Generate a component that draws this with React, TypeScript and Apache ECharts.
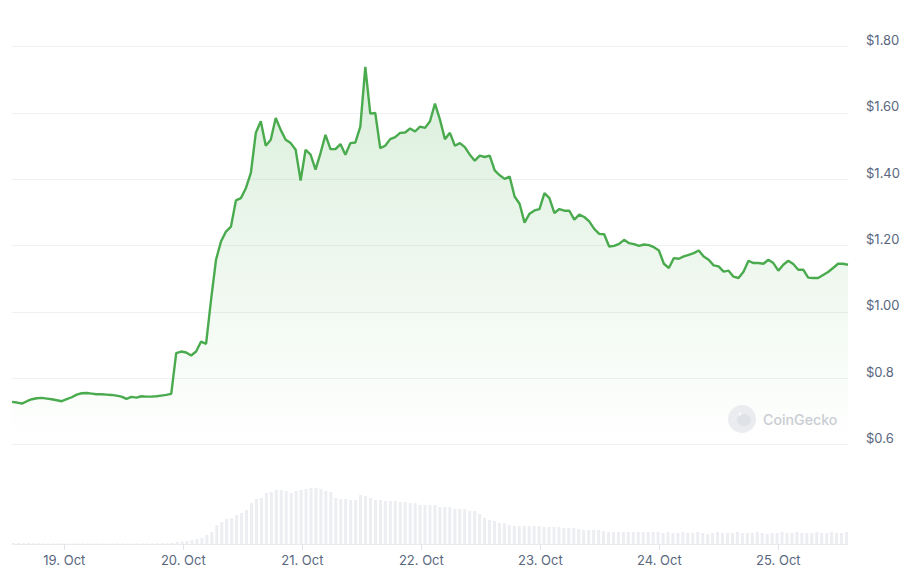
import React, { useEffect, useRef } from "react";
import * as echarts from "echarts";

// Hourly series, starting 18 Oct 13:45 (local time)
const startTime = new Date(2024, 9, 18, 13, 45).getTime();
const HOUR_MS = 3600 * 1000;
const DAY_MS = 24 * HOUR_MS;
const monthNames = ["Jan", "Feb", "Mar", "Apr", "May", "Jun", "Jul", "Aug", "Sep", "Oct", "Nov", "Dec"];

const prices = [
  // 18 Oct afternoon - 19 Oct
  0.728, 0.726, 0.723, 0.730, 0.736, 0.739, 0.740, 0.738, 0.736, 0.733, 0.730, 0.736, 0.742, 0.750, 0.754, 0.755,
  0.753, 0.751, 0.751, 0.750, 0.749, 0.747, 0.744, 0.737, 0.743, 0.741, 0.745, 0.744, 0.744, 0.745, 0.747, 0.749,
  0.752,
  // jump
  0.875, 0.880, 0.877, 0.868, 0.880, 0.910, 0.903,
  // rally & top
  1.036, 1.157, 1.212, 1.242, 1.257, 1.336, 1.343, 1.373, 1.419, 1.540,
  1.575, 1.501, 1.519, 1.585, 1.549, 1.519, 1.509, 1.489, 1.396, 1.489,
  1.474, 1.429, 1.479, 1.534, 1.491, 1.491, 1.506, 1.474, 1.509, 1.511,
  1.559, 1.739, 1.598, 1.600, 1.494, 1.501, 1.521, 1.527, 1.540, 1.541,
  1.553, 1.544, 1.559, 1.555, 1.575, 1.628, 1.580, 1.521, 1.540, 1.501,
  1.509, 1.497, 1.474, 1.456, 1.471, 1.467, 1.471,
  // decline
  1.427, 1.412, 1.401, 1.408, 1.348, 1.326, 1.269, 1.296, 1.306, 1.310,
  1.358, 1.343, 1.298, 1.310, 1.305, 1.305, 1.278, 1.293, 1.286, 1.273,
  1.250, 1.235, 1.234, 1.197, 1.199, 1.205, 1.217, 1.207, 1.204, 1.199,
  1.203, 1.201, 1.195, 1.185, 1.145, 1.132, 1.162, 1.160, 1.167, 1.172,
  1.177, 1.185,
  // consolidation
  1.167, 1.157, 1.140, 1.137, 1.121, 1.124, 1.106, 1.102, 1.121, 1.154,
  1.147, 1.147, 1.145, 1.157, 1.147, 1.124, 1.142, 1.154, 1.144, 1.127,
  1.127, 1.103, 1.102, 1.102, 1.111, 1.120, 1.132, 1.145, 1.145, 1.142,
];

const volumes = [
  1, 1, 1, 1, 0.8, 0.8,
  0.6, 0.5, 0.5, 0.6, 0.5, 0.5, 0.5, 0.6, 0.6, 0.5, 0.5, 0.5, 0.5, 0.5, 0.6, 0.5, 0.5, 0.5, 0.5, 0.5, 0.6, 0.6, 0.6, 0.7, 0.7, 0.8, 1.0,
  2, 2.5, 3, 4, 5, 6, 9,
  12, 19, 22, 25, 26, 29, 31, 34, 41, 45, 46, 51, 52, 54, 54, 53, 51, 53, 54, 55, 56, 56, 55, 53, 52,
  46, 45, 45, 44, 44, 49, 48, 46, 44, 44, 43, 43, 43, 42, 42, 41, 41, 39, 39, 39, 39, 37, 37, 37, 35, 35, 35, 33, 33, 30, 26, 24,
  23, 21, 21, 19, 18, 18, 18, 18, 18, 18, 17, 17, 17, 17, 16, 16, 16, 15, 14, 14, 14, 14, 13, 12, 12, 12, 12, 12, 12, 12, 12, 12, 12, 12,
  11, 12, 11, 11, 12, 11, 11, 12, 11, 10, 11, 12, 11, 11, 11, 12, 11, 11, 11, 12, 11, 10, 11, 11, 12, 11, 11, 12, 11, 11, 11, 12, 11, 11, 12, 11, 11, 12,
];

const yTickValues = [0.6, 0.8, 1.0, 1.2, 1.4, 1.6, 1.8];
const yTickLabels = ["$0.6", "$0.8", "$1.00", "$1.20", "$1.40", "$1.60", "$1.80"];

const FONT = 'Inter, "Noto Sans", "DejaVu Sans", sans-serif';
const LABEL_COLOR = "#58667e";

export default function App() {
  const ref = useRef<HTMLDivElement>(null);

  useEffect(() => {
    if (!ref.current) return;
    const chart = echarts.init(ref.current, null, { renderer: "svg" });
    const times = prices.map((_, i) => startTime + i * HOUR_MS);
    const priceData = prices.map((p, i) => [times[i], p]);
    const volData = volumes.map((v, i) => [times[i], v]);
    const tMin = times[0];
    const tMax = times[times.length - 1];

    chart.setOption({
      animation: false,
      backgroundColor: "#ffffff",
      textStyle: { fontFamily: FONT },
      grid: [
        { left: 12, right: 72, top: 46.7, height: 397.6 },
        { left: 12, right: 72, top: 487, height: 57 },
      ],
      xAxis: [
        {
          type: "time",
          gridIndex: 0,
          min: tMin,
          max: tMax,
          show: false,
          splitLine: { show: false },
        },
        {
          type: "time",
          gridIndex: 1,
          min: tMin,
          max: tMax,
          minInterval: DAY_MS,
          maxInterval: DAY_MS,
          axisLine: { show: true, lineStyle: { color: "#e9ebee", width: 1 } },
          axisTick: { show: true, length: 6, lineStyle: { color: "#dfe2e6" } },
          splitLine: { show: false },
          axisLabel: {
            margin: 9,
            color: LABEL_COLOR,
            fontSize: 13,
            fontFamily: FONT,
            formatter: (val: number) => {
              const d = new Date(val);
              return `${d.getDate()}. ${monthNames[d.getMonth()]}`;
            },
          },
        },
      ],
      yAxis: [
        {
          type: "value",
          gridIndex: 0,
          position: "right",
          min: 0.6,
          max: 1.8,
          interval: 0.2,
          axisLine: { show: false },
          axisTick: { show: false },
          splitLine: { show: true, lineStyle: { color: "#eff1f4", width: 1 } },
          axisLabel: {
            margin: 18,
            color: LABEL_COLOR,
            fontSize: 13,
            fontFamily: FONT,
            verticalAlign: "bottom",
            formatter: (v: number) => {
              const idx = yTickValues.findIndex((t) => Math.abs(t - v) < 1e-6);
              return idx >= 0 ? yTickLabels[idx] : "";
            },
          },
        },
        {
          type: "value",
          gridIndex: 1,
          min: 0,
          max: 57,
          show: false,
          splitLine: { show: false },
        },
      ],
      graphic: [
        {
          type: "circle",
          shape: { cx: 742, cy: 419, r: 14 },
          style: { fill: "#eaecef" },
          z: 10,
        },
        {
          type: "ellipse",
          shape: { cx: 744, cy: 420, rx: 7, ry: 6 },
          style: { fill: "#dfe2e6" },
          z: 11,
        },
        {
          type: "circle",
          shape: { cx: 740, cy: 414, r: 1.6 },
          style: { fill: "#f6f7f8" },
          z: 12,
        },
        {
          type: "text",
          x: 763,
          y: 419,
          style: {
            text: "CoinGecko",
            fill: "#c9cdd3",
            font: `500 14.2px ${FONT}`,
            verticalAlign: "middle",
          },
          z: 10,
        },
      ],
      series: [
        {
          name: "Price",
          type: "line",
          xAxisIndex: 0,
          yAxisIndex: 0,
          data: priceData,
          showSymbol: false,
          symbol: "none",
          lineStyle: { color: "#4aab4e", width: 2.4 },
          itemStyle: { color: "#4aab4e" },
          areaStyle: {
            origin: "start",
            color: new echarts.graphic.LinearGradient(0, 0, 0, 1, [
              { offset: 0, color: "rgba(76,175,80,0.30)" },
              { offset: 0.5, color: "rgba(76,175,80,0.14)" },
              { offset: 1, color: "rgba(76,175,80,0.0)" },
            ]),
          },
          z: 3,
        },
        {
          name: "Volume",
          type: "bar",
          xAxisIndex: 1,
          yAxisIndex: 1,
          data: volData,
          barWidth: 3,
          itemStyle: { color: "#eceef2" },
          z: 2,
        },
      ],
    });

    return () => chart.dispose();
  }, []);

  return (
    <div
      ref={ref}
      style={{ position: "fixed", left: 0, top: 0, width: 920, height: 576, background: "#fff" }}
    />
  );
}
